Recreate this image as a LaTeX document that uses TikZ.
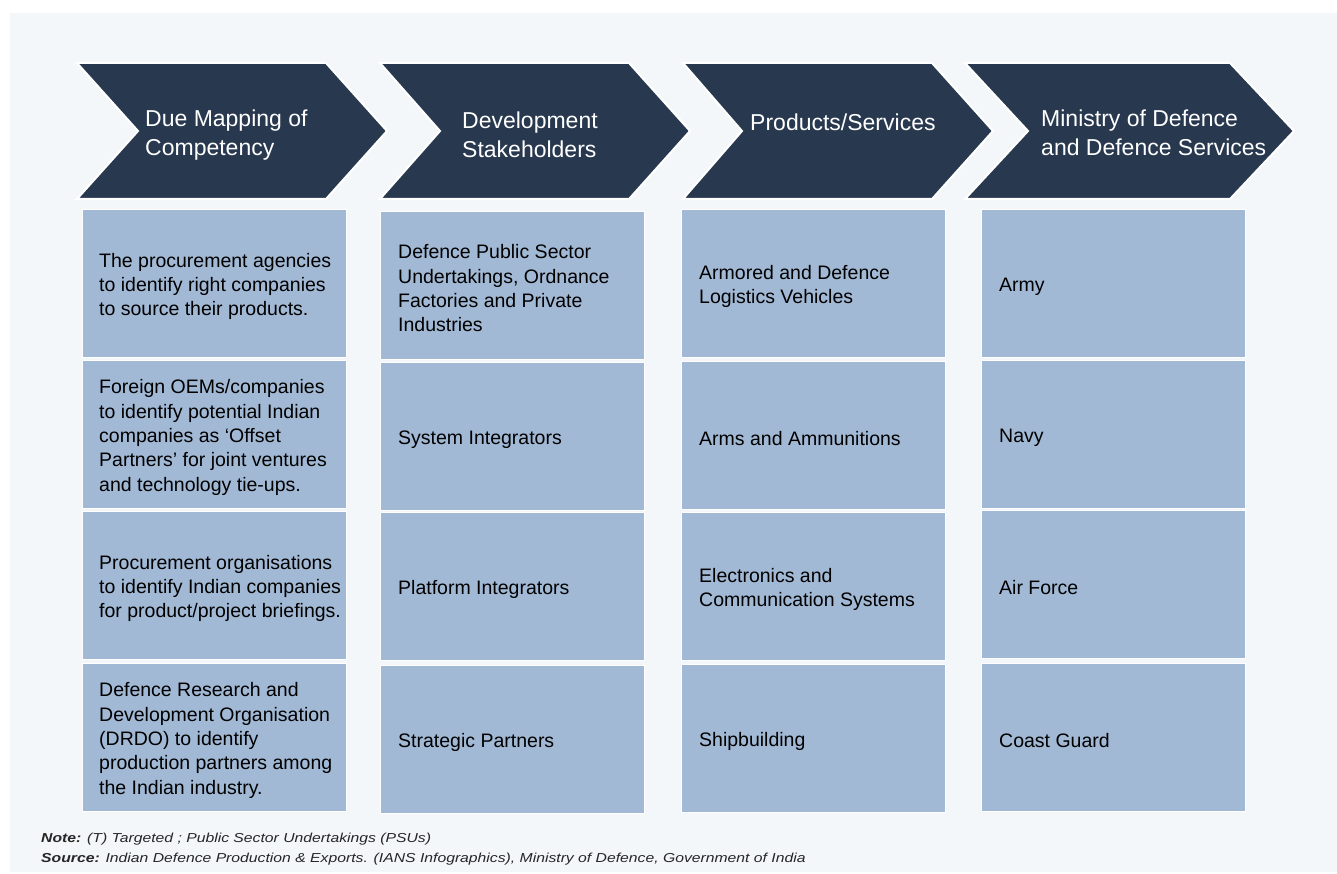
\documentclass[tikz,border=0pt]{standalone}
\usepackage{graphicx}
\usepackage{fontspec}
\setmainfont{Liberation Sans}
\definecolor{navy}{HTML}{28384F}
\definecolor{cellblue}{HTML}{A2B9D5}
\definecolor{panelbg}{HTML}{F4F7F9}
\begin{document}
\begin{tikzpicture}[x=1pt,y=-1pt,
  chev/.style={fill=navy,draw=white,line width=2pt,line join=miter},
  cell/.style={fill=cellblue,draw=white,line width=0.8pt,minimum width=264pt,minimum height=148pt,anchor=north west,inner sep=0pt},
  headtxt/.style={anchor=west,align=left,inner sep=0pt,text=white,font=\fontsize{23}{29}\selectfont},
  celltxt/.style={anchor=west,align=left,inner sep=0pt,text=black,yshift=-3pt,font=\fontsize{19.5}{24.3}\selectfont},
  notetxt/.style={anchor=west,inner sep=0pt,text=black!85,font=\fontsize{13}{16}\selectfont\itshape}]
\path[use as bounding box,fill=white] (0,0) rectangle (1337,874);
\fill[panelbg] (10,13) rectangle (1337,872);
% chevrons
\foreach \L/\N/\R/\T in {77/138/326/387, 380/440/629/690, 683/742/932/993, 965/1028/1230/1294}{
  \draw[chev] (\L,63) -- (\R,63) -- (\T,131) -- (\R,199) -- (\L,199) -- (\N,131) -- cycle;
}
\node[headtxt] (h1) at (145,135) {Due Mapping of\\Competency};
\node[headtxt] (h2) at (462,135) {Development\\Stakeholders};
\node[headtxt] (h3) at (750,122) {Products/Services};
\node[headtxt] (h4) at (1041,132.5) {Ministry of Defence\\and Defence Services};
% column 1
\node[cell] (c11) at (82,209) {};
\node[cell] (c12) at (82,360) {};
\node[cell] (c13) at (82,511) {};
\node[cell] (c14) at (82,663) {};
% column 2
\node[cell] (c21) at (380,211) {};
\node[cell] (c22) at (380,362) {};
\node[cell] (c23) at (380,512) {};
\node[cell] (c24) at (380,665) {};
% column 3
\node[cell] (c31) at (681,209) {};
\node[cell] (c32) at (681,361) {};
\node[cell] (c33) at (681,512) {};
\node[cell] (c34) at (681,664) {};
% column 4
\node[cell] (c41) at (981,209) {};
\node[cell] (c42) at (981,360) {};
\node[cell] (c43) at (981,510) {};
\node[cell] (c44) at (981,663) {};
% texts
\node[celltxt] (t11) at ([xshift=17pt]c11.west) {The procurement agencies\\to identify right companies\\to source their products.};
\node[celltxt] (t12) at ([xshift=17pt]c12.west) {Foreign OEMs/companies\\to identify potential Indian\\companies as ‘Offset\\Partners’ for joint ventures\\and technology tie-ups.};
\node[celltxt] (t13) at ([xshift=17pt]c13.west) {Procurement organisations\\to identify Indian companies\\for product/project briefings.};
\node[celltxt] (t14) at ([xshift=17pt]c14.west) {Defence Research and\\Development Organisation\\(DRDO) to identify\\production partners among\\the Indian industry.};
\node[celltxt] (t21) at ([xshift=18pt]c21.west) {Defence Public Sector\\Undertakings, Ordnance\\Factories and Private\\Industries};
\node[celltxt] (t22) at ([xshift=18pt]c22.west) {System Integrators};
\node[celltxt] (t23) at ([xshift=18pt]c23.west) {Platform Integrators};
\node[celltxt] (t24) at ([xshift=18pt]c24.west) {Strategic Partners};
\node[celltxt] (t31) at ([xshift=18pt]c31.west) {Armored and Defence\\Logistics Vehicles};
\node[celltxt] (t32) at ([xshift=18pt]c32.west) {Arms and Ammunitions};
\node[celltxt] (t33) at ([xshift=18pt]c33.west) {Electronics and\\Communication Systems};
\node[celltxt] (t34) at ([xshift=18pt]c34.west) {Shipbuilding};
\node[celltxt] (t41) at ([xshift=18pt]c41.west) {Army};
\node[celltxt] (t42) at ([xshift=18pt]c42.west) {Navy};
\node[celltxt] (t43) at ([xshift=18pt]c43.west) {Air Force};
\node[celltxt] (t44) at ([xshift=18pt]c44.west) {Coast Guard};
% notes
\node[notetxt] (note) at (41,839) {\scalebox{1.21}[1]{\textbf{Note:} (T) Targeted ; Public Sector Undertakings (PSUs)}};
\node[notetxt] (source) at (41,859) {\scalebox{1.21}[1]{\textbf{Source:} Indian Defence Production \& Exports. (IANS Infographics), Ministry of Defence, Government of India}};
\end{tikzpicture}
\end{document}
